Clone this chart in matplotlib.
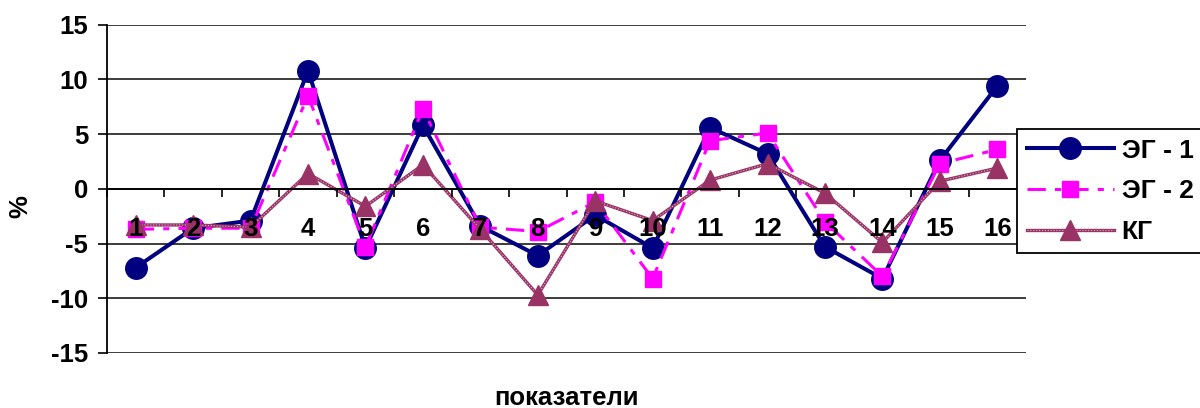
import matplotlib
matplotlib.use("Agg")
import matplotlib.pyplot as plt
from matplotlib.legend_handler import HandlerTuple

plt.rcParams['font.family'] = ['Liberation Sans', 'DejaVu Sans']
plt.rcParams['font.weight'] = 'bold'

# Categories (показатели) and percent change per group
categories = [str(i) for i in range(1, 17)]
eg1 = [-7.2, -3.6, -2.9, 10.8, -5.4, 5.8, -3.4, -6.1, -2.4, -5.4, 5.6, 3.2, -5.3, -8.2, 2.6, 9.4]
eg2 = [-3.7, -3.6, -3.6, 8.5, -5.3, 7.3, -3.5, -3.9, -1.2, -8.2, 4.4, 5.1, -3.0, -8.0, 2.3, 3.6]
kg = [-3.3, -3.3, -3.5, 1.4, -1.6, 2.2, -3.7, -9.7, -1.1, -2.9, 0.8, 2.3, -0.4, -4.9, 0.7, 1.9]
series_names = ['ЭГ - 1', 'ЭГ - 2', 'КГ']
y_ticks = [-15, -10, -5, 0, 5, 10, 15]

FS = 18.5

fig = plt.figure(figsize=(12, 4.08), dpi=100)
ax = fig.add_axes([107 / 1200, 1 - 353 / 408, (1026 - 107) / 1200, (353 - 24.7) / 408])

x = list(range(1, len(categories) + 1))

# horizontal gridlines underneath the series
for v in y_ticks:
    ax.axhline(v, color='#3c3c3c', lw=1.4, zorder=0.5)

l1, = ax.plot(x, eg1, color='#000080', lw=2.9, marker='o', ms=15.5,
              mfc='#000080', mec='#000080', zorder=2.0)
l2, = ax.plot(x, eg2, color='#ff00ff', lw=2.2, ls=(0, (6, 3, 2, 3)), marker='s', ms=12,
              mfc='#ff00ff', mec='#ff00ff', zorder=2.1)
k_base, = ax.plot(x, kg, color='#993366', lw=2.4, zorder=2.2)
k_dots, = ax.plot(x, kg, color='#dcb0cc', lw=0.8, ls=(0, (1, 1.6)), zorder=2.25)
k_mark, = ax.plot(x, kg, ls='none', marker='^', ms=14, mfc='#993366', mec='#993366', zorder=2.3)

ax.set_xlim(0.5, len(categories) + 0.5)
ax.set_ylim(-15, 15)
ax.set_axisbelow(False)

for s in ['top', 'right']:
    ax.spines[s].set_visible(False)
ax.spines['bottom'].set_position(('data', 0))
ax.spines['bottom'].set_linewidth(1.3)
ax.spines['left'].set_linewidth(1.3)

ax.set_yticks(y_ticks)
ax.set_yticklabels([str(v) for v in y_ticks])
ax.tick_params(axis='y', direction='out', length=6.5, width=1.2, pad=7, labelsize=FS)

ax.set_xticks(x)
ax.set_xticklabels(categories)
ax.set_xticks([i + 0.5 for i in range(0, len(categories) + 1)], minor=True)
ax.tick_params(axis='x', which='major', length=0, pad=20, labelsize=FS)
ax.tick_params(axis='x', which='minor', direction='out', length=6, width=1.2)
for lab in ax.get_xticklabels() + ax.get_yticklabels():
    lab.set_fontweight('bold')

fig.text(20 / 1200, 1 - 207 / 408, '%', rotation=90, ha='center', va='center',
         fontsize=FS, fontweight='bold')
fig.text(566 / 1200, 1 - 405 / 408, 'показатели', ha='center', va='baseline',
         fontsize=FS, fontweight='bold')

# legend box runs past the right edge of the figure
leg_top = 1 - 129 / 408
leg = fig.legend([l1, l2, (k_base, k_dots, k_mark)], series_names,
                 handler_map={tuple: HandlerTuple(ndivide=1)},
                 loc='upper left', bbox_to_anchor=(1017 / 1200, 0, 210 / 1200, leg_top),
                 mode='expand',
                 borderaxespad=0, borderpad=0.36, handlelength=3.3, handletextpad=0.3,
                 labelspacing=0.63, fancybox=False, framealpha=1, edgecolor='black',
                 prop={'size': 19, 'weight': 'bold'})
leg.get_frame().set_linewidth(1.3)

fig.savefig('out.png', dpi=100)
